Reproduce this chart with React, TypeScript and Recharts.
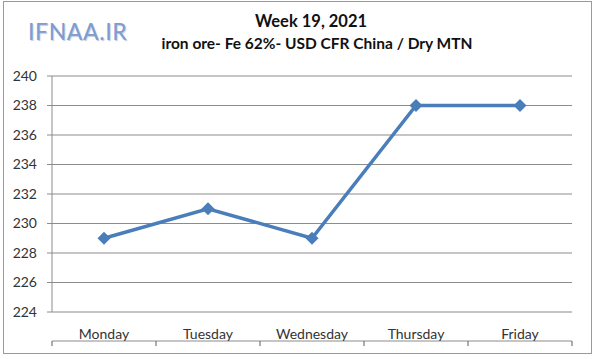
import { LineChart, Line, XAxis, YAxis, CartesianGrid } from "recharts";

const DAYS = ["Monday", "Tuesday", "Wednesday", "Thursday", "Friday"];
const PRICES = [229, 231, 229, 238, 238];
const Y_TICKS = [224, 226, 228, 230, 232, 234, 236, 238, 240];
const BOUNDARY_TICKS = [0, 1, 2, 3, 4, 5];

const LINE_COLOR = "#4a7ebb";
const GRID_COLOR = "#8c8c8c";
const FONT = "Lato, 'Open Sans', sans-serif";

const data = DAYS.map((day, i) => ({ day, price: PRICES[i], slot: i + 0.5 }));

const Diamond = (props: any) => {
	const { cx, cy, index } = props;
	if (cx == null || cy == null) return null;
	const s = 6.5;
	return (
		<path
			key={`d-${index}`}
			d={`M${cx},${cy - s}L${cx + s},${cy}L${cx},${cy + s}L${cx - s},${cy}Z`}
			fill={LINE_COLOR}
		/>
	);
};

const BlankTick = (props: any) => <text x={props.x} y={props.y}></text>;

const App = () => {
	return (
		<div style={{ position: "absolute", left: 0, top: 0, width: 600, height: 359, background: "#fff", fontFamily: FONT }}>
			<div
				style={{
					position: "absolute",
					left: 3,
					top: 1,
					width: 587,
					height: 351,
					border: "1px solid #9a9a9a",
				}}
			/>
			<div
				style={{
					position: "absolute",
					left: 28,
					top: 17,
					fontSize: 23,
					color: "#7c9cd2",
					textShadow: "1px 1px 1px #b9c6dc",
					letterSpacing: 0.6,
				}}
			>
				IFNAA.IR
			</div>
			<div
				style={{
					position: "absolute",
					left: 0,
					width: 622,
					top: 11,
					textAlign: "center",
					fontWeight: "bold",
					fontSize: 16.5,
					color: "#111",
					lineHeight: "20px",
				}}
			>
				Week 19, 2021
			</div>
			<div
				style={{
					position: "absolute",
					left: 0,
					width: 634,
					top: 33,
					textAlign: "center",
					fontWeight: "bold",
					fontSize: 15.5,
					color: "#111",
					lineHeight: "20px",
				}}
			>
				iron ore- Fe 62%- USD CFR China / Dry MTN
			</div>
			<div style={{ position: "absolute", left: 0, top: 0 }}>
				<LineChart
					width={600}
					height={359}
					data={data}
					margin={{ top: 76, right: 28, bottom: 17, left: 0 }}
				>
					<CartesianGrid vertical={false} stroke={GRID_COLOR} strokeWidth={1.2} />
					<XAxis
						xAxisId='bounds'
						dataKey='slot'
						type='number'
						domain={[0, 5]}
						ticks={BOUNDARY_TICKS}
						interval={0}
						height={1}
						tick={BlankTick}
						tickSize={5}
						tickLine={{ stroke: "#777", strokeWidth: 1.2 }}
						axisLine={{ stroke: GRID_COLOR, strokeWidth: 1.2 }}
					/>
					<XAxis
						dataKey='day'
						height={29}
						padding={{ left: 52, right: 52 }}
						tickLine={false}
						axisLine={false}
						tickMargin={11}
						tick={{ fill: "#333", fontSize: 14, fontFamily: FONT }}
						interval={0}
					/>
					<YAxis
						width={52}
						domain={[224, 240]}
						ticks={Y_TICKS}
						interval={0}
						tickSize={5}
						tickMargin={10}
						tickLine={{ stroke: GRID_COLOR }}
						axisLine={{ stroke: GRID_COLOR }}
						tick={{ fill: "#333", fontSize: 14, fontFamily: FONT }}
					/>
					<Line
						type='linear'
						dataKey='price'
						stroke={LINE_COLOR}
						strokeWidth={3.5}
						dot={Diamond}
						activeDot={false}
						isAnimationActive={false}
					/>
					<Line
						xAxisId='bounds'
						dataKey='price'
						stroke='none'
						dot={false}
						activeDot={false}
						legendType='none'
						isAnimationActive={false}
					/>
				</LineChart>
			</div>
		</div>
	);
};

export default App;
